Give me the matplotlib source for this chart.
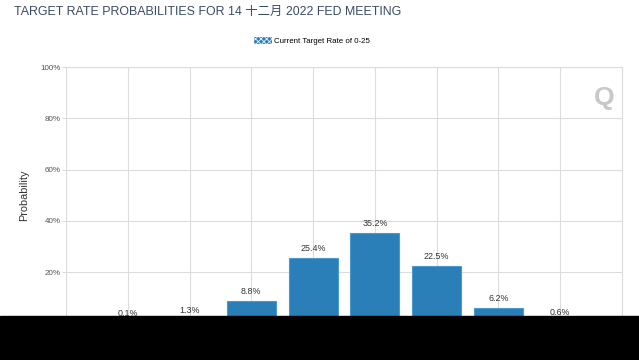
import matplotlib.pyplot as plt
from matplotlib.patches import Patch, Rectangle

plt.rcParams['font.family'] = ['Liberation Sans', 'Noto Sans CJK SC', 'DejaVu Sans']
plt.rcParams['hatch.linewidth'] = 0.6

# data
probabilities = [0.1, 1.3, 8.8, 25.4, 35.2, 22.5, 6.2, 0.6]
y_ticks = [0, 20, 40, 60, 80, 100]
title = 'TARGET RATE PROBABILITIES FOR 14 十二月 2022 FED MEETING'
series_name = 'Current Target Rate of 0-25'

bar_color = '#2b7fb8'
grid_color = '#dcdcdc'

W, H = 639, 360
fig = plt.figure(figsize=(W / 100, H / 100), dpi=100)

ax = fig.add_axes([66 / W, 1 - 323.5 / H, (622 - 66) / W, (323.5 - 67) / H])
x = list(range(len(probabilities)))
ax.bar(x, probabilities, width=0.79, color=bar_color, edgecolor='#4a9ad0',
       linewidth=0.8, zorder=3)

for i, v in zip(x, probabilities):
    ax.annotate(f'{v}%', (i, v), xytext=(0, 3.5), textcoords='offset points',
                ha='center', va='bottom', fontsize=6.4, color='#333333', zorder=4)

ax.set_xlim(-1, len(probabilities))
ax.set_ylim(0, 100)
ax.set_xticks(range(-1, len(probabilities) + 1))
ax.set_xticklabels([])
ax.set_yticks(y_ticks)
ax.set_yticklabels([f'{t}%' for t in y_ticks])
ax.tick_params(axis='y', length=3, color=grid_color, labelsize=5.8,
               labelcolor='#555555', pad=1)
ax.tick_params(axis='x', length=0)
ax.grid(True, color=grid_color, linewidth=0.8, zorder=0)
for s in ax.spines.values():
    s.set_color(grid_color)
    s.set_linewidth(0.8)

fig.text(24 / W, 1 - 195 / H, 'Probability', rotation=90, ha='center',
         va='center', fontsize=7.8, color='#333333')

fig.text(14 / W, 1 - 12 / H, title, ha='left', va='center', fontsize=8.9,
         color='#3b4a66')

handle = Patch(facecolor=bar_color, edgecolor='#e8f3fb', hatch='xxxxxx', linewidth=0)
fig.legend([handle], [series_name], loc='center', bbox_to_anchor=(312 / W, 1 - 41 / H),
           frameon=False, fontsize=5.7, handlelength=2.3, handleheight=0.9,
           handletextpad=0.3, borderpad=0)

# watermark
fig.text(604 / W, 1 - 98 / H, 'Q', ha='center', va='center', fontsize=19,
         fontweight='bold', color='#c8c8c8')

# black band over the bottom of the screenshot
fig.add_artist(Rectangle((0, 0), 1, 44 / H, transform=fig.transFigure,
                         color='black', zorder=10))

fig.savefig('out.png', dpi=100)
